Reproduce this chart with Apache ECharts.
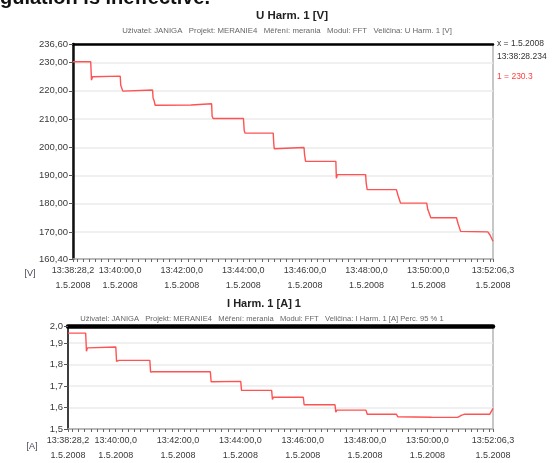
<!DOCTYPE html>
<html><head><meta charset="utf-8">
<script src="https://cdn.jsdelivr.net/npm/echarts@6/dist/echarts.min.js"></script>
<style>html,body{margin:0;padding:0;background:#fff}#c{width:553px;height:463px}</style>
</head><body><div id="c"></div>
<script>
// ---- data ----
const xLabelTimes = ['13:38:28,2','13:40:00,0','13:42:00,0','13:44:00,0','13:46:00,0','13:48:00,0','13:50:00,0','13:52:06,3'];
const xDate = '1.5.2008';
const uTicks = [160.4,170,180,190,200,210,220,230,236.6];
const iTicks = [1.5,1.6,1.7,1.8,1.9,1.98];
// seconds since 13:38:28,2
const uTime  = [0,34.5,36,38,40,92,93,95,97,99,155,156,158,160,162,230,232,270,271,273,332,333.5,335,390,391,392,394,450,451,453,512,513,515,570,571,573,630,633,638,689,691,697,747,750,755,758,808,812,818.1];
const uValue = [230.3,230.3,223.8,225.0,225.2,225.2,222.0,221.5,219.9,220.3,220.3,217.5,216.5,214.9,215.0,215.0,215.4,215.4,211.0,210.2,210.2,206.0,205.0,205.0,201.5,199.5,199.9,199.9,197.5,195.0,195.0,189.0,190.3,190.3,187.5,185.0,185.0,183.0,180.2,180.2,178.0,175.0,175.0,173.0,170.2,170.0,170.0,169.0,166.7];
const iTime  = [0,34,35.5,37.5,40,92,93.5,95.5,98,157.5,159,160.5,163,274,275.5,277,332.5,334,392,393.5,395.5,453,454.5,514,515.5,517.5,573.5,576,632,635,700,750,758,764,812,818.1];
const iValue = [1.947,1.947,1.862,1.878,1.882,1.882,1.815,1.808,1.82,1.82,1.765,1.76,1.767,1.767,1.72,1.722,1.722,1.68,1.68,1.638,1.648,1.648,1.613,1.613,1.578,1.588,1.588,1.569,1.569,1.557,1.555,1.554,1.565,1.569,1.569,1.596];

// ---- helpers ----
function parseT(s){const p=s.split(':');return (+p[0])*3600+(+p[1])*60+parseFloat(p[2].replace(',','.'));}
const t0 = parseT(xLabelTimes[0]);
const xLabelVals = xLabelTimes.map(s=>+(parseT(s)-t0).toFixed(1));
const span = xLabelVals[xLabelVals.length-1];
const xTickVals = [0];
for(let t=xLabelVals[1];t>0;t-=12){ if(t<xLabelVals[1]) xTickVals.push(+t.toFixed(1)); }
for(let t=xLabelVals[1];t<span;t+=12){ xTickVals.push(+t.toFixed(1)); }
xTickVals.push(span);
function xFmt(v){let best=0;let d=1e9;xLabelVals.forEach((x,i)=>{if(Math.abs(x-v)<d){d=Math.abs(x-v);best=i;}});return xLabelTimes[best]+'\n'+xDate;}
const zip=(a,b)=>a.map((x,i)=>[x,b[i]]);

const FONT='"Liberation Sans", Arial, sans-serif';
const lblColor='#3a3a3a';

function xBottom(grid){
  return {type:'value',gridIndex:grid,min:0,max:span,position:'bottom',
    axisLine:{show:true,onZero:false,lineStyle:{color:'#aaa',width:1.5}},
    axisTick:{show:true,customValues:xTickVals,length:3,inside:false,lineStyle:{color:'#666',width:1}},
    axisLabel:{customValues:xLabelVals,formatter:xFmt,fontSize:9,fontFamily:FONT,color:lblColor,lineHeight:15,margin:4},
    splitLine:{show:false}};
}
function xTop(grid,w){
  return {type:'value',gridIndex:grid,min:0,max:span,position:'top',
    axisLine:{show:true,onZero:false,lineStyle:{color:'#000',width:w}},
    axisTick:{show:false},axisLabel:{show:false},splitLine:{show:false}};
}

const option={
  animation:false,
  backgroundColor:'#fff',
  grid:[
    {left:73,top:44,width:420,height:215,show:true,borderColor:'#b5b5b5',borderWidth:1.5,backgroundColor:'#fff'},
    {left:68,top:326,width:425,height:111,show:true,borderColor:'#b5b5b5',borderWidth:1.5,backgroundColor:'#fff'}
  ],
  xAxis:[xBottom(0),xTop(0,2.5),xBottom(1),xTop(1,4.5)],
  yAxis:[
    {type:'value',gridIndex:0,min:uTicks[0],max:uTicks[uTicks.length-1],splitNumber:8,
      axisLine:{show:true,onZero:false,lineStyle:{color:'#111',width:2.5}},
      axisTick:{show:true,customValues:uTicks,length:4,lineStyle:{color:'#555'}},
      axisLabel:{customValues:uTicks,formatter:v=>v.toFixed(2).replace('.',','),fontSize:9.5,fontFamily:FONT,color:lblColor,margin:5},
      splitLine:{show:true,lineStyle:{color:'#ebebeb',width:1.5}}},
    {type:'value',gridIndex:1,min:iTicks[0],max:iTicks[iTicks.length-1],splitNumber:5,
      axisLine:{show:true,onZero:false,lineStyle:{color:'#111',width:1.5}},
      axisTick:{show:true,customValues:iTicks,length:4,lineStyle:{color:'#555'}},
      axisLabel:{customValues:iTicks,formatter:v=>v.toFixed(1).replace('.',','),fontSize:9.5,fontFamily:FONT,color:lblColor,margin:5},
      splitLine:{show:true,lineStyle:{color:'#ebebeb',width:1.5}}}
  ],
  series:[
    {type:'line',xAxisIndex:0,yAxisIndex:0,data:zip(uTime,uValue),showSymbol:false,symbol:'none',
      lineStyle:{color:'#ff5252',width:1.4},silent:true},
    {type:'line',xAxisIndex:2,yAxisIndex:1,data:zip(iTime,iValue),showSymbol:false,symbol:'none',
      lineStyle:{color:'#ff5252',width:1.4},silent:true}
  ],
  graphic:[
    {type:'text',x:0,y:-2,style:{text:'gulation is ineffective.',font:'bold 20px '+FONT,fill:'#111',verticalAlign:'middle'}},
    {type:'text',x:292,y:16,style:{text:'U Harm. 1 [V]',font:'bold 11.5px '+FONT,fill:'#222',align:'center',verticalAlign:'middle'}},
    {type:'text',x:287,y:31,style:{text:'Uživatel: JANIGA   Projekt: MERANIE4   Měření: merania   Modul: FFT   Veličina: U Harm. 1 [V]',font:'7.8px '+FONT,fill:'#666',align:'center',verticalAlign:'middle'}},
    {type:'text',x:497,y:44,style:{text:'x = 1.5.2008',font:'8.5px '+FONT,fill:'#333',verticalAlign:'middle'}},
    {type:'text',x:497,y:57,style:{text:'13:38:28.234',font:'8.5px '+FONT,fill:'#333',verticalAlign:'middle'}},
    {type:'text',x:497,y:77,style:{text:'1 = 230.3',font:'8.5px '+FONT,fill:'#ff3b3b',verticalAlign:'middle'}},
    {type:'text',x:30,y:274,style:{text:'[V]',font:'9px '+FONT,fill:'#445',align:'center',verticalAlign:'middle'}},
    {type:'text',x:264,y:304,style:{text:'I Harm. 1 [A] 1',font:'bold 11px '+FONT,fill:'#222',align:'center',verticalAlign:'middle'}},
    {type:'text',x:262,y:319,style:{text:'Uživatel: JANIGA   Projekt: MERANIE4   Měření: merania   Modul: FFT   Veličina: I Harm. 1 [A] Perc. 95 % 1',font:'7.6px '+FONT,fill:'#666',align:'center',verticalAlign:'middle'}},
    {type:'text',x:32,y:447,style:{text:'[A]',font:'9px '+FONT,fill:'#445',align:'center',verticalAlign:'middle'}}
  ]
};
const chart=echarts.init(document.getElementById('c'),null,{renderer:'canvas'});
chart.setOption(option);
</script></body></html>
